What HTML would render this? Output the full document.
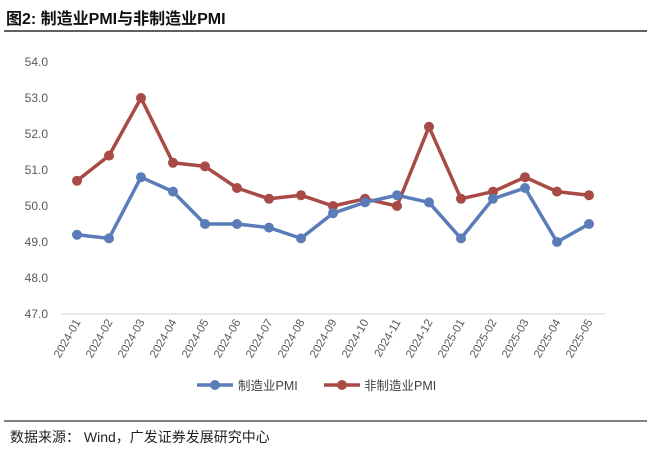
<!DOCTYPE html><html><head><meta charset="utf-8"><style>body{margin:0;background:#fff;}svg{display:block}</style></head><body>
<svg width="660" height="456" xmlns="http://www.w3.org/2000/svg" font-family="Liberation Sans, Noto Sans CJK SC, sans-serif">
<text x="6" y="24" font-size="16" font-weight="bold" fill="#111">图2:  制造业PMI与非制造业PMI</text>
<line x1="4" y1="31" x2="647" y2="31" stroke="#000" stroke-width="1.2"/>
<g font-size="12" fill="#595959" text-anchor="end">
<text x="48" y="66">54.0</text><text x="48" y="102">53.0</text><text x="48" y="138">52.0</text><text x="48" y="174">51.0</text><text x="48" y="210">50.0</text><text x="48" y="246">49.0</text><text x="48" y="282">48.0</text><text x="48" y="318">47.0</text>
</g>
<line x1="61" y1="314" x2="605" y2="314" stroke="#d0d0d0" stroke-width="1"/>
<g id="xl" font-size="11.5" fill="#595959" text-anchor="end"></g>
<polyline id="nm" fill="none" stroke="#A84B47" stroke-width="3.5" stroke-linejoin="round"/>
<polyline id="mf" fill="none" stroke="#5A7DBA" stroke-width="3.5" stroke-linejoin="round"/>
<g id="dots"></g>
<line x1="197" y1="385" x2="233" y2="385" stroke="#5A7DBA" stroke-width="3.5"/><circle cx="215" cy="385" r="5" fill="#5A7DBA"/>
<text x="238" y="390" font-size="12.5" fill="#404040">制造业PMI</text>
<line x1="324" y1="385" x2="360" y2="385" stroke="#A84B47" stroke-width="3.5"/><circle cx="342" cy="385" r="5" fill="#A84B47"/>
<text x="364" y="390" font-size="12.5" fill="#404040">非制造业PMI</text>
<line x1="4" y1="421" x2="647" y2="421" stroke="#000" stroke-width="1"/>
<text x="10" y="442" font-size="14" fill="#222">数据来源：  Wind，广发证券发展研究中心</text>
<script>
var m=[49.2,49.1,50.8,50.4,49.5,49.5,49.4,49.1,49.8,50.1,50.3,50.1,49.1,50.2,50.5,49.0,49.5];
var n=[50.7,51.4,53.0,51.2,51.1,50.5,50.2,50.3,50.0,50.2,50.0,52.2,50.2,50.4,50.8,50.4,50.3];
var L=["2024-01","2024-02","2024-03","2024-04","2024-05","2024-06","2024-07","2024-08","2024-09","2024-10","2024-11","2024-12","2025-01","2025-02","2025-03","2025-04","2025-05"];
function X(i){return 77+32*i}function Y(v){return 62+(54-v)*36}
var ns="http://www.w3.org/2000/svg";
document.getElementById('mf').setAttribute('points',m.map(function(v,i){return X(i)+','+Y(v)}).join(' '));
document.getElementById('nm').setAttribute('points',n.map(function(v,i){return X(i)+','+Y(v)}).join(' '));
var d=document.getElementById('dots'),xl=document.getElementById('xl');
function c(x,y,col){var e=document.createElementNS(ns,'circle');e.setAttribute('cx',x);e.setAttribute('cy',y);e.setAttribute('r',5);e.setAttribute('fill',col);d.appendChild(e);}
n.forEach(function(v,i){c(X(i),Y(v),'#A84B47')});m.forEach(function(v,i){c(X(i),Y(v),'#5A7DBA')});
L.forEach(function(s,i){var t=document.createElementNS(ns,'text');t.setAttribute('transform','translate('+(X(i)+4)+',322) rotate(-60)');t.textContent=s;xl.appendChild(t);});
</script>
</svg></body></html>
